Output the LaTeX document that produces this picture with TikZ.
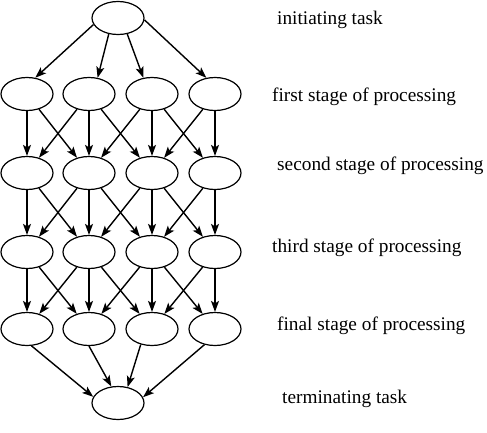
\documentclass[tikz,border=0pt]{standalone}
\usepackage{fontspec}
\setmainfont{Liberation Serif}
\usetikzlibrary{shapes.geometric,arrows.meta}

\begin{document}
\begin{tikzpicture}[x=1pt,y=-1pt,
		task/.style={draw, ellipse, line width=1.2pt, minimum width=52pt, minimum height=33pt, inner sep=0pt},
		flow/.style={-{Stealth[length=11pt,width=8pt,inset=2.5pt]}, line width=1.4pt},
		stage/.style={anchor=base west, inner sep=0pt, font=\rmfamily\fontsize{19.3}{22}\selectfont}]
		\useasboundingbox (0,0) rectangle (487,432);
		
		% Initiating task
		\node[task] (init) at (118,18) {};
		
		% Stages of processing
		\foreach \r/\y in {1/94,2/173,3/252,4/329}
		\foreach \i/\x in {1/27,2/89,3/152,4/215}
		\node[task] (s\r\i) at (\x,\y) {};
		
		% Terminating task
		\node[task] (term) at (118,403) {};
		
		% Arrows from the initiating task
		\draw[flow] (init.195) -- (s11.63);
		\draw[flow] (init.240) -- (s12.62);
		\draw[flow] (init.300) -- (s13.118);
		\draw[flow] (init.-4) -- (s14.118);
		
		% Arrows between stages
		\foreach \r/\n in {1/2,2/3,3/4} {
			\foreach \i in {1,...,4}
			\draw[flow] (s\r\i.south) -- (s\n\i.north);
			\foreach \i/\j in {1/2,2/3,3/4} {
				\draw[flow] (s\r\i) -- (s\n\j);
				\draw[flow] (s\r\j) -- (s\n\i);
			}
		}
		
		% Arrows to the terminating task
		\draw[flow] (s41.-75) -- (term.166);
		\draw[flow] (s42.south) -- (term.112);
		\draw[flow] (s43.234) -- (term.59);
		\draw[flow] (s44.236) -- (term.13);
		
		% Labels
		\node[stage] (l0) at (277,24) {initiating task};
		\node[stage] (l1) at (272,101.5) {first stage of processing};
		\node[stage] (l2) at (277,170) {second stage of processing};
		\node[stage] (l3) at (272,252) {third stage of processing};
		\node[stage] (l4) at (277,330) {final stage of processing};
		\node[stage] (l5) at (282,403) {terminating task};
		
	\end{tikzpicture}
\end{document}
